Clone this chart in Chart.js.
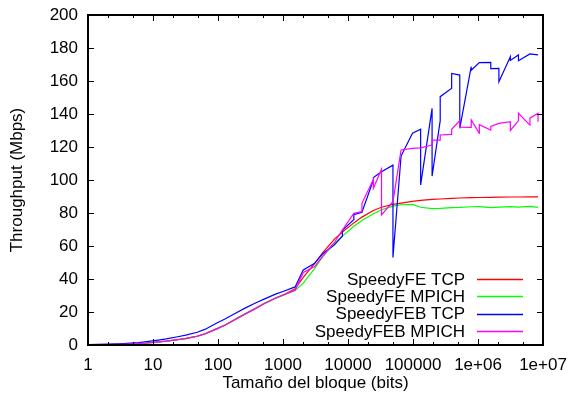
<!DOCTYPE html>
<html>
<head>
<meta charset="utf-8">
<script src="https://cdn.jsdelivr.net/npm/chart.js@4/dist/chart.umd.min.js"></script>
<style>
  html, body { margin: 0; padding: 0; background: #fff; }
</style>
</head>
<body>
<canvas id="grafico" width="572" height="401"></canvas>
<script>
// Tamaños de bloque (bits) y throughput medido (Mbps)
const feTcpX = [1, 2, 3, 4, 6, 8, 12, 16, 24, 32, 48, 64, 96, 128, 192, 256, 384, 512, 768, 1024,
    1536, 2048, 3072, 4096, 6144, 8192, 12288, 16384, 24576, 32768, 49152, 65536, 98304, 131072,
    196608, 262144, 393216, 524288, 786432, 1048576, 1572864, 2097152, 3145728, 4194304, 6291456, 8388608];
const feTcpY = [0.1, 0.25, 0.4, 0.55, 0.85, 1.2, 1.9, 2.4, 3.3, 4.0, 5.4, 6.9, 9.9, 12.1, 16, 18.7, 22.4, 25.2, 28.5, 30.5,
    34, 41, 49.5, 56, 64, 68.5, 74, 77.5, 81.5, 83.5, 85.2, 86, 87, 87.6,
    88.2, 88.5, 88.9, 89.1, 89.3, 89.4, 89.5, 89.6, 89.7, 89.7, 89.8, 89.8];

const feMpichX = feTcpX;
const feMpichY = [0.1, 0.2, 0.35, 0.5, 0.8, 1.1, 1.8, 2.3, 3.2, 3.9, 5.3, 6.8, 9.8, 12, 15.9, 18.6, 22.3, 25.1, 28.4, 30.4,
    33, 37.5, 46.5, 53.5, 61.5, 66, 72, 75.5, 79.5, 82, 84.2, 85, 85.2, 83.5,
    82.6, 82.8, 83.3, 83.4, 83.8, 83.9, 83.3, 83.6, 83.9, 83.6, 84, 83.4];

const febTcpX = [1, 2, 3, 4, 6, 8, 12, 16, 24, 32, 48, 64, 96, 128, 192, 256, 384, 512, 768, 1024,
    1536, 2048, 3072, 4096, 6144, 8192, 8195, 12288, 12291, 16384, 24576, 24579, 32768, 49152, 49155,
    65536, 98304, 131072, 131075, 196608, 196611, 262141, 262144, 393216, 393219, 524288, 524291,
    786432, 786435, 1048576, 1572864, 1572867, 2097152, 2097155, 3145728, 3145731, 4194304, 4194307,
    6291456, 8388608];
const febTcpY = [0.25, 0.5, 0.75, 1.0, 1.5, 2.1, 3.0, 3.7, 5.0, 6.0, 7.7, 9.6, 13.3, 15.8, 19.6, 22.2, 25.6, 27.8, 30.8, 32.6,
    35.2, 45.5, 49.5, 55.5, 60.5, 66, 69.5, 76, 79, 80.5, 100, 101.5, 105, 109, 53,
    114.5, 128.3, 130.8, 97, 143.4, 102.4, 136, 150.5, 155.6, 164.6, 163.6, 131.3,
    168.7, 166.5, 171.1, 171.3, 167.5, 167.7, 159.6, 174.7, 172.5, 175.8, 172.3,
    176.4, 175.8];

const febMpichX = [1, 2, 3, 4, 6, 8, 12, 16, 24, 32, 48, 64, 96, 128, 192, 256, 384, 512, 768, 1024,
    1536, 2048, 3072, 4096, 6144, 8192, 12288, 16384, 16387, 24576, 24579, 32768, 32771, 49152,
    65536, 98304, 131072, 196608, 196611, 262144, 262147, 393216, 393219, 524288, 524291,
    786432, 786435, 1048576, 1048579, 1572864, 1572867, 2097152, 3145728, 3145731,
    4194304, 4194307, 6291456, 6291459, 8388608, 8388611];
const febMpichY = [0.1, 0.25, 0.4, 0.55, 0.85, 1.2, 1.9, 2.4, 3.2, 3.9, 5.3, 6.8, 9.8, 12, 15.8, 18.5, 22.2, 25, 28.3, 30.3,
    33.2, 44, 47.5, 54, 62, 69.7, 79.8, 80.8, 85.9, 100.4, 95, 106.5, 78.8, 86.9,
    118.2, 119.2, 119.5, 121.2, 124.2, 124.2, 127.3, 127.7, 130.7, 136, 132,
    131.9, 136.4, 128.3, 133.5, 130.3, 132.5, 134.3, 135.3, 130,
    136, 140.4, 133.3, 137.5, 140.4, 135.3];

const seriesNames = ['SpeedyFE TCP', 'SpeedyFE MPICH', 'SpeedyFEB TCP', 'SpeedyFEB MPICH'];
const seriesColors = ['#ff0000', '#00ff00', '#0000ff', '#ff00ff'];
const xTickLabels = ['1', '10', '100', '1000', '10000', '100000', '1e+06', '1e+07'];
const yTicks = [0, 20, 40, 60, 80, 100, 120, 140, 160, 180, 200];

const fuente = '"Liberation Sans", Arial, sans-serif';

function puntos(xs, ys) {
    return xs.map((x, i) => ({ x: x, y: ys[i] }));
}

const series = [
    puntos(feTcpX, feTcpY),
    puntos(feMpichX, feMpichY),
    puntos(febTcpX, febTcpY),
    puntos(febMpichX, febMpichY)
];

// el área del gráfico la fija el padding del layout, no el desborde de las etiquetas
function sinDesborde(scale) {
    scale.paddingTop = 0;
    scale.paddingBottom = 0;
    scale.paddingLeft = 0;
    scale.paddingRight = 0;
}

// marco, marcas hacia dentro y leyenda al estilo gnuplot
const marco = {
    id: 'marco',
    afterDraw(chart) {
        const ctx = chart.ctx;
        const a = chart.chartArea;
        const sx = chart.scales.x;
        const sy = chart.scales.y;

        ctx.save();
        ctx.strokeStyle = '#000';
        ctx.lineWidth = 1;
        ctx.beginPath();
        for (let d = 0; d < xTickLabels.length; d++) {
            const base = Math.pow(10, d);
            const px = Math.round(sx.getPixelForValue(base)) + 0.5;
            ctx.moveTo(px, a.bottom); ctx.lineTo(px, a.bottom - 6);
            ctx.moveTo(px, a.top); ctx.lineTo(px, a.top + 6);
            if (d === xTickLabels.length - 1) break;
            for (const m of [2, 5]) {
                const mx = Math.round(sx.getPixelForValue(base * m)) + 0.5;
                ctx.moveTo(mx, a.bottom); ctx.lineTo(mx, a.bottom - 3);
                ctx.moveTo(mx, a.top); ctx.lineTo(mx, a.top + 3);
            }
        }
        yTicks.forEach(v => {
            const py = Math.round(sy.getPixelForValue(v)) + 0.5;
            ctx.moveTo(a.left, py); ctx.lineTo(a.left + 6, py);
            ctx.moveTo(a.right, py); ctx.lineTo(a.right - 6, py);
        });
        ctx.stroke();

        ctx.lineWidth = 2;
        ctx.strokeRect(a.left, a.top, a.right - a.left, a.bottom - a.top);

        // leyenda
        ctx.font = '17px ' + fuente;
        ctx.textAlign = 'right';
        ctx.textBaseline = 'middle';
        ctx.lineWidth = 1.5;
        seriesNames.forEach((nombre, i) => {
            const y = a.bottom - 66 + i * 17.3;
            ctx.fillStyle = '#000';
            ctx.fillText(nombre, a.right - 78, y + 1);
            ctx.strokeStyle = seriesColors[i];
            ctx.beginPath();
            ctx.moveTo(a.right - 66, Math.round(y) + 0.5);
            ctx.lineTo(a.right - 20, Math.round(y) + 0.5);
            ctx.stroke();
        });
        ctx.restore();
    }
};

const ctx = document.getElementById('grafico').getContext('2d');

new Chart(ctx, {
    type: 'scatter',
    data: {
        datasets: series.map((datos, i) => ({
            label: seriesNames[i],
            data: datos,
            showLine: true,
            borderColor: seriesColors[i],
            backgroundColor: seriesColors[i],
            borderWidth: 1.2,
            pointRadius: 0,
            tension: 0,
            order: series.length - i
        }))
    },
    options: {
        responsive: false,
        animation: false,
        devicePixelRatio: 1,
        layout: {
            padding: { top: 15, right: 29, left: 0, bottom: 0 }
        },
        scales: {
            x: {
                type: 'logarithmic',
                min: 1,
                max: 1e7,
                afterBuildTicks: scale => {
                    scale.ticks = xTickLabels.map((t, i) => ({ value: Math.pow(10, i) }));
                },
                afterFit: scale => {
                    scale.height = 56;
                    sinDesborde(scale);
                },
                grid: { display: false, drawTicks: false },
                border: { display: false },
                ticks: {
                    color: '#000',
                    padding: 10,
                    maxRotation: 0,
                    autoSkip: false,
                    font: { family: fuente, size: 17 },
                    callback: (v, i) => xTickLabels[i]
                },
                title: {
                    display: true,
                    text: 'Tamaño del bloque (bits)',
                    color: '#000',
                    font: { family: fuente, size: 17 },
                    padding: { top: 0, bottom: 7 }
                }
            },
            y: {
                min: 0,
                max: 200,
                afterBuildTicks: scale => {
                    scale.ticks = yTicks.map(v => ({ value: v }));
                },
                afterFit: scale => {
                    scale.width = 88;
                    sinDesborde(scale);
                },
                grid: { display: false, drawTicks: false },
                border: { display: false },
                ticks: {
                    color: '#000',
                    padding: 10,
                    font: { family: fuente, size: 17 }
                },
                title: {
                    display: true,
                    text: 'Throughput (Mbps)',
                    color: '#000',
                    font: { family: fuente, size: 17 },
                    padding: { top: 7, bottom: 0 }
                }
            }
        },
        plugins: {
            legend: { display: false },
            tooltip: { enabled: false }
        }
    },
    plugins: [marco]
});
</script>
</body>
</html>
